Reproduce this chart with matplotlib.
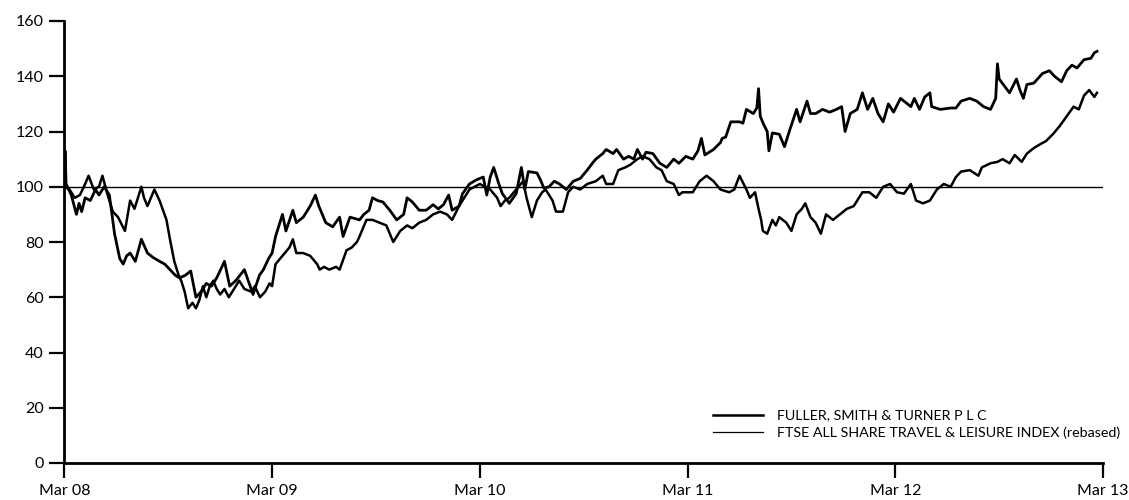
import matplotlib
matplotlib.use("Agg")
import matplotlib.pyplot as plt

# months since Mar 08, values rebased to 100
fuller_months = [
    0, 0.04, 0.1, 0.4, 0.7, 0.85, 1.0, 1.2, 1.5, 1.8, 2.0, 2.3, 2.6, 2.9, 3.2, 3.4, 3.6, 3.8,
    4.1, 4.45, 4.8, 5.1, 5.5, 5.8, 6.1, 6.4, 6.65, 7.0, 7.3, 7.6, 7.9, 8.2, 8.5, 8.8, 9.25,
    9.55, 9.9, 10.4, 10.9, 11.27, 11.5, 11.8, 12.0, 12.2, 12.6, 12.8, 13.2, 13.4, 13.8, 14.2,
    14.5, 14.7, 15.1, 15.5, 15.9, 16.1, 16.5, 17.05, 17.3, 17.6, 17.8, 18.1, 18.4, 18.8, 19.2,
    19.6, 19.8, 20.1, 20.5, 20.9, 21.3, 21.6, 21.9, 22.2, 22.4, 22.8, 23.0, 23.4,
    23.8, 24.0, 24.2, 24.4, 24.6, 24.8, 25.1, 25.3, 25.7, 26.1, 26.4, 26.6, 26.8, 27.3, 27.5,
    27.7, 28.0, 28.3, 28.6, 29.0, 29.4, 29.8, 30.2, 30.5, 30.7, 31.1, 31.3, 31.7, 31.9, 32.3,
    32.6, 32.9, 33.1, 33.4, 33.6, 34.0, 34.4, 34.8, 35.2, 35.5, 35.9, 36.3, 36.6, 36.8, 37.0,
    37.5, 37.9, 38.0, 38.2, 38.5, 39.0, 39.2, 39.4, 39.8, 40.0, 40.1, 40.2, 40.4, 40.6, 40.7,
    40.9, 41.3, 41.6, 41.9, 42.3, 42.5, 42.9, 43.1, 43.4, 43.8, 44.2, 44.6, 44.9, 45.1, 45.4,
    45.8, 46.1, 46.4, 46.7, 47.0, 47.3, 47.6, 47.9, 48.3, 48.9, 49.1, 49.4, 49.7, 50.0, 50.1,
    50.6, 51.2, 51.5, 51.8, 52.3, 52.7, 53.1, 53.5, 53.8, 53.9, 54.0, 54.3, 54.6, 55.0, 55.2,
    55.4, 55.6, 56.0, 56.5, 56.9, 57.2, 57.6, 57.9, 58.2, 58.5, 58.9, 59.3, 59.5, 59.65,
]
fuller = [
    100, 113, 101, 97, 90, 94, 91, 96, 95, 99, 97, 100, 97, 83, 74, 72, 75, 76,
    73, 81, 76, 74.5, 73, 72, 70, 68, 67, 68, 69.5, 60, 62, 65, 64, 67, 73,
    64, 66, 70, 61, 68, 70, 74, 76, 82, 90, 84, 91.5, 87, 89, 93,
    97, 93, 87, 85.5, 89, 82, 89, 88, 90, 91.5, 96, 95, 94.5, 91.5, 88,
    90, 96, 94.5, 91.5, 91.5, 93.5, 92, 93.5, 97, 91.5, 93, 97.5, 101,
    102.5, 103, 103.5, 97, 103.5, 107, 101, 97.5, 94, 97.5, 107, 99, 105.5, 105, 102.5,
    99.5, 100, 102, 101, 99, 102, 103, 106, 108.5, 110, 112, 113.5, 112, 113.5, 110,
    111, 110, 113.5, 110, 112.5, 112, 108.5, 107, 110, 108.5, 111, 110, 113, 117.5, 111.5,
    113.5, 116, 117.5, 118, 123.5, 123.5, 123, 128, 126.5, 128.5, 135.5, 125.5, 122.5, 120, 113,
    119.5, 119, 114.5, 120.5, 128, 123.5, 131, 126.5, 126.5, 128, 127, 128, 129, 120, 126.5,
    128, 134, 128, 132, 126.5, 123.5, 130, 127, 132, 129, 132, 128, 132.5, 134, 129,
    128, 128.5, 128.5, 131, 132, 131, 129, 128, 132, 144.5, 139, 136.5, 134, 139, 135,
    132, 137, 137.5, 141, 142, 140, 138, 142, 144, 143, 146, 146.5, 148.5, 149,
]

ftse_months = [
    0, 0.3, 0.6, 0.9, 1.2, 1.4, 1.7, 2.0, 2.2, 2.5, 2.8, 3.1, 3.5, 3.8, 4.05, 4.2, 4.45, 4.6,
    4.8, 5.0, 5.2, 5.5, 5.9, 6.1, 6.35, 6.6, 6.75, 6.95, 7.15, 7.4, 7.6, 7.8, 8.0, 8.2, 8.4,
    8.6, 8.8, 9.0, 9.25, 9.5, 9.8, 10.1, 10.4, 10.8, 11.0, 11.3, 11.6,
    11.85, 12.0, 12.2, 12.6, 13.0, 13.2, 13.4, 13.8, 14.2, 14.6, 14.75, 15.0, 15.3, 15.7, 15.9,
    16.3, 16.6, 16.9, 17.05, 17.45, 17.8, 18.2, 18.6, 19.0, 19.4, 19.8, 20.1, 20.5, 20.9, 21.3,
    21.7, 22.1, 22.4, 22.8, 23.2,
    23.4, 23.7, 24.0, 24.3, 24.6, 25.0, 25.2, 25.45, 25.7, 26.1, 26.5, 26.7, 27.0, 27.3, 27.6,
    27.8, 28.2, 28.4, 28.8, 29.1, 29.4, 29.8, 30.2, 30.7, 31.1, 31.3, 31.7, 32.0, 32.4, 32.7,
    33.1, 33.4, 33.8, 34.2, 34.5, 34.8, 35.2, 35.5, 35.7, 36.1, 36.3, 36.7, 37.1, 37.5, 37.9,
    38.4, 38.7, 39.0, 39.4, 39.6, 39.9, 40.1, 40.25, 40.35, 40.6, 40.9, 41.1, 41.3, 41.7, 42.0,
    42.3, 42.6, 42.8, 43.1, 43.4, 43.7, 44.0, 44.4, 44.8, 45.2, 45.6, 46.1, 46.5, 46.9, 47.3,
    47.7, 48.1, 48.5, 48.9, 49.2, 49.6, 50.0, 50.4, 50.8, 51.2, 51.5, 51.8, 52.3, 52.8, 53.0,
    53.5, 53.9, 54.2, 54.6, 54.9, 55.3, 55.6, 56.0, 56.4, 56.7, 57.1, 57.5, 57.9, 58.3, 58.6,
    58.9, 59.2, 59.5, 59.65,
]
ftse = [
    100, 99, 96, 97, 101, 104, 99, 100, 104, 97, 91, 89, 84, 95, 92, 95, 100, 96,
    93, 96, 99, 95, 88, 81, 73, 68, 66, 62, 56, 58, 56, 59, 64, 60, 64,
    66, 63, 61, 63, 60, 63, 66, 63, 62, 64, 60, 62,
    65, 64, 72, 75, 78, 81, 76, 76, 75, 72, 70, 71, 70, 71, 70,
    77, 78, 80, 82, 88, 88, 87, 86, 80, 84, 86, 85, 87, 88, 90,
    91, 90, 88, 93, 97,
    99, 100, 101, 100, 99, 96, 93, 95, 96, 99, 102, 96, 89, 95, 98,
    99, 95, 91, 91, 98, 100, 99, 101, 102, 104, 101, 101, 106, 107, 108,
    110, 111, 110, 107, 106, 102, 101, 97, 98, 98, 98, 102, 104, 102, 99,
    98, 99, 104, 99, 96, 98, 92, 88, 84, 83, 88, 86, 89, 87, 84,
    90, 92, 94, 89, 87, 83, 90, 88, 90, 92, 93, 98, 98, 96, 100,
    101, 98, 97.5, 101, 95, 94, 95, 99, 101, 100, 103.5, 105.5, 106, 104, 107,
    108.5, 109, 110, 108.5, 111.5, 109, 112, 114, 115.5, 116.5, 119, 122, 125.5, 129, 128,
    133, 135, 132.5, 134,
]

tick_months = [0, 12, 24, 36, 48, 60]
tick_labels = ["Mar 08", "Mar 09", "Mar 10", "Mar 11", "Mar 12", "Mar 13"]
y_ticks = [0, 20, 40, 60, 80, 100, 120, 140, 160]

plt.rcParams["font.family"] = ["Lato", "DejaVu Sans"]

fig = plt.figure(figsize=(11.29, 5), dpi=100)
ax = fig.add_axes([0.057, 0.074, 0.92, 0.884])

ax.axhline(100, color="black", lw=1.0, zorder=1)
ax.plot(fuller_months, fuller, color="black", lw=2.0,
        label="FULLER, SMITH & TURNER P L C", zorder=3)
ax.plot(ftse_months, ftse, color="black", lw=1.8,
        label="FTSE ALL SHARE TRAVEL & LEISURE INDEX (rebased)", zorder=2)

ax.set_xlim(0, 60)
ax.set_ylim(0, 160)
ax.set_xticks(tick_months)
ax.set_xticklabels(tick_labels)
ax.set_yticks(y_ticks)

for s in ("top", "right"):
    ax.spines[s].set_visible(False)
for s in ("left", "bottom"):
    ax.spines[s].set_linewidth(2.0)
ax.tick_params(axis="both", direction="out", length=11, width=1.6,
               labelsize=11.5, colors="black", pad=4)

leg = ax.legend(loc="lower left", bbox_to_anchor=(0.612, 0.025), frameon=False,
                fontsize=10.3, handlelength=3.5, handletextpad=1.0, labelspacing=0.35)
leg.get_lines()[0].set_linewidth(1.8)
leg.get_lines()[1].set_linewidth(0.9)

fig.savefig("out.png", dpi=100)
